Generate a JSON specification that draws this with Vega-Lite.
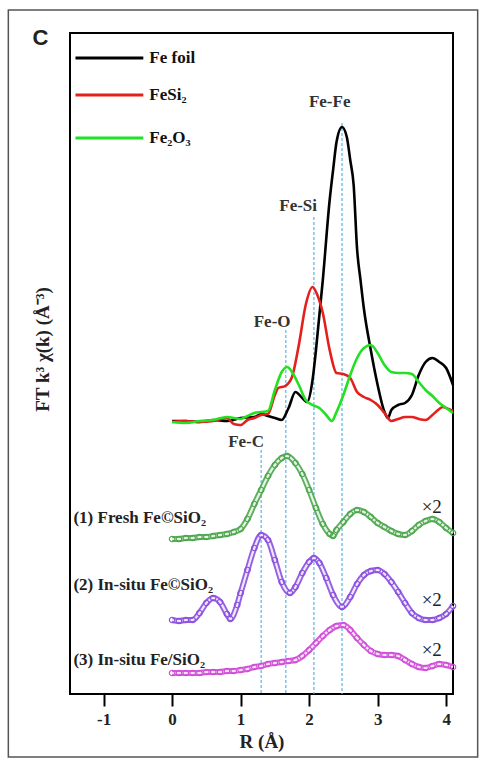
{
  "$schema": "https://vega.github.io/schema/vega-lite/v6.json",
  "width": 383,
  "height": 661,
  "autosize": "none",
  "padding": {"left": 70, "top": 33, "right": 30, "bottom": 69},
  "background": "white",
  "config": {
    "view": {"stroke": "black", "strokeWidth": 2},
    "font": "Liberation Serif"
  },
  "datasets": {
    "refs": [
      {"R": 0.0, "v": 273, "s": "Fe foil"}, {"R": 0.2, "v": 273, "s": "Fe foil"}, {"R": 0.4, "v": 272, "s": "Fe foil"}, {"R": 0.6, "v": 274, "s": "Fe foil"}, {"R": 0.8, "v": 273, "s": "Fe foil"}, {"R": 1.0, "v": 276, "s": "Fe foil"}, {"R": 1.2, "v": 277, "s": "Fe foil"}, {"R": 1.3, "v": 280, "s": "Fe foil"}, {"R": 1.4, "v": 278, "s": "Fe foil"}, {"R": 1.5, "v": 276, "s": "Fe foil"}, {"R": 1.6, "v": 274, "s": "Fe foil"}, {"R": 1.7, "v": 286, "s": "Fe foil"}, {"R": 1.8, "v": 302, "s": "Fe foil"}, {"R": 1.9, "v": 296, "s": "Fe foil"}, {"R": 1.97, "v": 292, "s": "Fe foil"}, {"R": 2.05, "v": 314, "s": "Fe foil"}, {"R": 2.1, "v": 344, "s": "Fe foil"}, {"R": 2.2, "v": 414, "s": "Fe foil"}, {"R": 2.3, "v": 494, "s": "Fe foil"}, {"R": 2.35, "v": 524, "s": "Fe foil"}, {"R": 2.4, "v": 552, "s": "Fe foil"}, {"R": 2.48, "v": 567, "s": "Fe foil"}, {"R": 2.55, "v": 557, "s": "Fe foil"}, {"R": 2.6, "v": 534, "s": "Fe foil"}, {"R": 2.65, "v": 509, "s": "Fe foil"}, {"R": 2.7, "v": 445, "s": "Fe foil"}, {"R": 2.75, "v": 414, "s": "Fe foil"}, {"R": 2.8, "v": 385, "s": "Fe foil"}, {"R": 2.9, "v": 344, "s": "Fe foil"}, {"R": 3.0, "v": 309, "s": "Fe foil"}, {"R": 3.1, "v": 282, "s": "Fe foil"}, {"R": 3.15, "v": 276, "s": "Fe foil"}, {"R": 3.2, "v": 284, "s": "Fe foil"}, {"R": 3.3, "v": 289, "s": "Fe foil"}, {"R": 3.4, "v": 291, "s": "Fe foil"}, {"R": 3.5, "v": 299, "s": "Fe foil"}, {"R": 3.6, "v": 319, "s": "Fe foil"}, {"R": 3.7, "v": 332, "s": "Fe foil"}, {"R": 3.8, "v": 336, "s": "Fe foil"}, {"R": 3.9, "v": 332, "s": "Fe foil"}, {"R": 4.0, "v": 326, "s": "Fe foil"}, {"R": 4.1, "v": 309, "s": "Fe foil"},

      {"R": 0.0, "v": 272, "s": "FeSi2"}, {"R": 0.2, "v": 273, "s": "FeSi2"}, {"R": 0.4, "v": 272, "s": "FeSi2"}, {"R": 0.6, "v": 273, "s": "FeSi2"}, {"R": 0.8, "v": 276, "s": "FeSi2"}, {"R": 0.9, "v": 270, "s": "FeSi2"}, {"R": 1.0, "v": 269, "s": "FeSi2"}, {"R": 1.1, "v": 274, "s": "FeSi2"}, {"R": 1.2, "v": 276, "s": "FeSi2"}, {"R": 1.3, "v": 279, "s": "FeSi2"}, {"R": 1.4, "v": 280, "s": "FeSi2"}, {"R": 1.5, "v": 299, "s": "FeSi2"}, {"R": 1.55, "v": 306, "s": "FeSi2"}, {"R": 1.65, "v": 308, "s": "FeSi2"}, {"R": 1.75, "v": 317, "s": "FeSi2"}, {"R": 1.85, "v": 349, "s": "FeSi2"}, {"R": 1.95, "v": 389, "s": "FeSi2"}, {"R": 2.05, "v": 407, "s": "FeSi2"}, {"R": 2.12, "v": 399, "s": "FeSi2"}, {"R": 2.2, "v": 381, "s": "FeSi2"}, {"R": 2.3, "v": 344, "s": "FeSi2"}, {"R": 2.4, "v": 321, "s": "FeSi2"}, {"R": 2.5, "v": 320, "s": "FeSi2"}, {"R": 2.6, "v": 316, "s": "FeSi2"}, {"R": 2.7, "v": 302, "s": "FeSi2"}, {"R": 2.8, "v": 297, "s": "FeSi2"}, {"R": 2.9, "v": 294, "s": "FeSi2"}, {"R": 3.0, "v": 289, "s": "FeSi2"}, {"R": 3.1, "v": 281, "s": "FeSi2"}, {"R": 3.2, "v": 273, "s": "FeSi2"}, {"R": 3.3, "v": 275, "s": "FeSi2"}, {"R": 3.4, "v": 277, "s": "FeSi2"}, {"R": 3.5, "v": 277, "s": "FeSi2"}, {"R": 3.6, "v": 275, "s": "FeSi2"}, {"R": 3.7, "v": 274, "s": "FeSi2"}, {"R": 3.8, "v": 279, "s": "FeSi2"}, {"R": 3.9, "v": 285, "s": "FeSi2"}, {"R": 3.95, "v": 287, "s": "FeSi2"}, {"R": 4.0, "v": 286, "s": "FeSi2"}, {"R": 4.1, "v": 283, "s": "FeSi2"},

      {"R": 0.0, "v": 272, "s": "Fe2O3"}, {"R": 0.2, "v": 271, "s": "Fe2O3"}, {"R": 0.4, "v": 273, "s": "Fe2O3"}, {"R": 0.6, "v": 274, "s": "Fe2O3"}, {"R": 0.8, "v": 277, "s": "Fe2O3"}, {"R": 1.0, "v": 275, "s": "Fe2O3"}, {"R": 1.1, "v": 278, "s": "Fe2O3"}, {"R": 1.2, "v": 281, "s": "Fe2O3"}, {"R": 1.3, "v": 282, "s": "Fe2O3"}, {"R": 1.4, "v": 283, "s": "Fe2O3"}, {"R": 1.5, "v": 304, "s": "Fe2O3"}, {"R": 1.6, "v": 322, "s": "Fe2O3"}, {"R": 1.68, "v": 327, "s": "Fe2O3"}, {"R": 1.75, "v": 322, "s": "Fe2O3"}, {"R": 1.85, "v": 309, "s": "Fe2O3"}, {"R": 1.95, "v": 294, "s": "Fe2O3"}, {"R": 2.05, "v": 289, "s": "Fe2O3"}, {"R": 2.15, "v": 286, "s": "Fe2O3"}, {"R": 2.25, "v": 279, "s": "Fe2O3"}, {"R": 2.33, "v": 273, "s": "Fe2O3"}, {"R": 2.4, "v": 282, "s": "Fe2O3"}, {"R": 2.5, "v": 299, "s": "Fe2O3"}, {"R": 2.6, "v": 319, "s": "Fe2O3"}, {"R": 2.7, "v": 336, "s": "Fe2O3"}, {"R": 2.8, "v": 346, "s": "Fe2O3"}, {"R": 2.9, "v": 349, "s": "Fe2O3"}, {"R": 3.0, "v": 341, "s": "Fe2O3"}, {"R": 3.1, "v": 329, "s": "Fe2O3"}, {"R": 3.2, "v": 322, "s": "Fe2O3"}, {"R": 3.3, "v": 321, "s": "Fe2O3"}, {"R": 3.4, "v": 321, "s": "Fe2O3"}, {"R": 3.5, "v": 320, "s": "Fe2O3"}, {"R": 3.6, "v": 312, "s": "Fe2O3"}, {"R": 3.7, "v": 304, "s": "Fe2O3"}, {"R": 3.8, "v": 298, "s": "Fe2O3"}, {"R": 3.9, "v": 291, "s": "Fe2O3"}, {"R": 4.0, "v": 286, "s": "Fe2O3"}, {"R": 4.1, "v": 281, "s": "Fe2O3"}
    ],
    "samples": [
      {"R": 0.0, "v": 155, "s": "s1"}, {"R": 0.1, "v": 155, "s": "s1"}, {"R": 0.2, "v": 156, "s": "s1"}, {"R": 0.3, "v": 156, "s": "s1"}, {"R": 0.4, "v": 157, "s": "s1"}, {"R": 0.5, "v": 157, "s": "s1"}, {"R": 0.6, "v": 158, "s": "s1"}, {"R": 0.7, "v": 159, "s": "s1"}, {"R": 0.8, "v": 160, "s": "s1"}, {"R": 0.9, "v": 162, "s": "s1"}, {"R": 1.0, "v": 165, "s": "s1"}, {"R": 1.1, "v": 175, "s": "s1"}, {"R": 1.2, "v": 190, "s": "s1"}, {"R": 1.3, "v": 204, "s": "s1"}, {"R": 1.4, "v": 218, "s": "s1"}, {"R": 1.5, "v": 229, "s": "s1"}, {"R": 1.6, "v": 236, "s": "s1"}, {"R": 1.68, "v": 238, "s": "s1"}, {"R": 1.8, "v": 231, "s": "s1"}, {"R": 1.9, "v": 220, "s": "s1"}, {"R": 2.0, "v": 204, "s": "s1"}, {"R": 2.1, "v": 186, "s": "s1"}, {"R": 2.2, "v": 170, "s": "s1"}, {"R": 2.3, "v": 160, "s": "s1"}, {"R": 2.35, "v": 158, "s": "s1"}, {"R": 2.4, "v": 164, "s": "s1"}, {"R": 2.5, "v": 172, "s": "s1"}, {"R": 2.6, "v": 180, "s": "s1"}, {"R": 2.7, "v": 184, "s": "s1"}, {"R": 2.8, "v": 182, "s": "s1"}, {"R": 2.9, "v": 177, "s": "s1"}, {"R": 3.0, "v": 171, "s": "s1"}, {"R": 3.1, "v": 167, "s": "s1"}, {"R": 3.2, "v": 163, "s": "s1"}, {"R": 3.3, "v": 160, "s": "s1"}, {"R": 3.4, "v": 159, "s": "s1"}, {"R": 3.5, "v": 163, "s": "s1"}, {"R": 3.6, "v": 169, "s": "s1"}, {"R": 3.7, "v": 173, "s": "s1"}, {"R": 3.8, "v": 175, "s": "s1"}, {"R": 3.9, "v": 172, "s": "s1"}, {"R": 4.0, "v": 166, "s": "s1"}, {"R": 4.1, "v": 161, "s": "s1"},

      {"R": 0.0, "v": 74, "s": "s2"}, {"R": 0.1, "v": 73, "s": "s2"}, {"R": 0.2, "v": 74, "s": "s2"}, {"R": 0.3, "v": 74, "s": "s2"}, {"R": 0.4, "v": 81, "s": "s2"}, {"R": 0.5, "v": 91, "s": "s2"}, {"R": 0.6, "v": 96, "s": "s2"}, {"R": 0.7, "v": 92, "s": "s2"}, {"R": 0.8, "v": 80, "s": "s2"}, {"R": 0.85, "v": 75, "s": "s2"}, {"R": 0.95, "v": 89, "s": "s2"}, {"R": 1.0, "v": 101, "s": "s2"}, {"R": 1.1, "v": 124, "s": "s2"}, {"R": 1.2, "v": 146, "s": "s2"}, {"R": 1.3, "v": 159, "s": "s2"}, {"R": 1.4, "v": 154, "s": "s2"}, {"R": 1.5, "v": 134, "s": "s2"}, {"R": 1.6, "v": 112, "s": "s2"}, {"R": 1.72, "v": 101, "s": "s2"}, {"R": 1.8, "v": 107, "s": "s2"}, {"R": 1.9, "v": 121, "s": "s2"}, {"R": 2.0, "v": 132, "s": "s2"}, {"R": 2.07, "v": 136, "s": "s2"}, {"R": 2.15, "v": 131, "s": "s2"}, {"R": 2.25, "v": 116, "s": "s2"}, {"R": 2.35, "v": 99, "s": "s2"}, {"R": 2.48, "v": 87, "s": "s2"}, {"R": 2.6, "v": 97, "s": "s2"}, {"R": 2.7, "v": 110, "s": "s2"}, {"R": 2.8, "v": 119, "s": "s2"}, {"R": 2.9, "v": 123, "s": "s2"}, {"R": 3.0, "v": 124, "s": "s2"}, {"R": 3.1, "v": 120, "s": "s2"}, {"R": 3.2, "v": 112, "s": "s2"}, {"R": 3.3, "v": 102, "s": "s2"}, {"R": 3.4, "v": 91, "s": "s2"}, {"R": 3.5, "v": 81, "s": "s2"}, {"R": 3.6, "v": 76, "s": "s2"}, {"R": 3.7, "v": 74, "s": "s2"}, {"R": 3.8, "v": 74, "s": "s2"}, {"R": 3.9, "v": 76, "s": "s2"}, {"R": 4.0, "v": 80, "s": "s2"}, {"R": 4.1, "v": 88, "s": "s2"},

      {"R": 0.0, "v": 21, "s": "s3"}, {"R": 0.1, "v": 21, "s": "s3"}, {"R": 0.2, "v": 21, "s": "s3"}, {"R": 0.3, "v": 21, "s": "s3"}, {"R": 0.4, "v": 21, "s": "s3"}, {"R": 0.5, "v": 22, "s": "s3"}, {"R": 0.6, "v": 22, "s": "s3"}, {"R": 0.7, "v": 22, "s": "s3"}, {"R": 0.8, "v": 23, "s": "s3"}, {"R": 0.9, "v": 23, "s": "s3"}, {"R": 1.0, "v": 24, "s": "s3"}, {"R": 1.1, "v": 25, "s": "s3"}, {"R": 1.2, "v": 27, "s": "s3"}, {"R": 1.3, "v": 28, "s": "s3"}, {"R": 1.4, "v": 30, "s": "s3"}, {"R": 1.5, "v": 31, "s": "s3"}, {"R": 1.6, "v": 32, "s": "s3"}, {"R": 1.7, "v": 33, "s": "s3"}, {"R": 1.8, "v": 34, "s": "s3"}, {"R": 1.9, "v": 38, "s": "s3"}, {"R": 2.0, "v": 44, "s": "s3"}, {"R": 2.1, "v": 51, "s": "s3"}, {"R": 2.2, "v": 58, "s": "s3"}, {"R": 2.3, "v": 64, "s": "s3"}, {"R": 2.4, "v": 68, "s": "s3"}, {"R": 2.5, "v": 69, "s": "s3"}, {"R": 2.6, "v": 64, "s": "s3"}, {"R": 2.7, "v": 56, "s": "s3"}, {"R": 2.8, "v": 49, "s": "s3"}, {"R": 2.9, "v": 43, "s": "s3"}, {"R": 3.0, "v": 40, "s": "s3"}, {"R": 3.1, "v": 39, "s": "s3"}, {"R": 3.2, "v": 39, "s": "s3"}, {"R": 3.3, "v": 38, "s": "s3"}, {"R": 3.4, "v": 34, "s": "s3"}, {"R": 3.5, "v": 30, "s": "s3"}, {"R": 3.6, "v": 27, "s": "s3"}, {"R": 3.7, "v": 26, "s": "s3"}, {"R": 3.8, "v": 28, "s": "s3"}, {"R": 3.9, "v": 30, "s": "s3"}, {"R": 4.0, "v": 29, "s": "s3"}, {"R": 4.1, "v": 27, "s": "s3"}
    ],
    "bonds": [
      {"bond": "Fe-C", "R": 1.30, "top": 244, "labelR": 1.08, "labelV": 252},
      {"bond": "Fe-O", "R": 1.66, "top": 364, "labelR": 1.46, "labelV": 372},
      {"bond": "Fe-Si", "R": 2.07, "top": 477, "labelR": 1.84, "labelV": 488},
      {"bond": "Fe-Fe", "R": 2.48, "top": 571, "labelR": 2.30, "labelV": 592}
    ],
    "legend": [
      {"s": "Fe foil", "x1": -1.41, "x2": -0.42, "v": 636, "label": "Fe foil"},
      {"s": "FeSi2", "x1": -1.41, "x2": -0.42, "v": 599, "label": "FeSi₂"},
      {"s": "Fe2O3", "x1": -1.41, "x2": -0.42, "v": 556, "label": "Fe₂O₃"}
    ],
    "sampleLabels": [
      {"s": "s1", "label": "(1) Fresh Fe©SiO₂", "R": -1.44, "v": 176, "scaleV": 187},
      {"s": "s2", "label": "(2) In-situ Fe©SiO₂", "R": -1.44, "v": 109, "scaleV": 94},
      {"s": "s3", "label": "(3) In-situ Fe/SiO₂", "R": -1.44, "v": 34, "scaleV": 44}
    ],
    "frame": [
      {"x1": -2.39, "x2": 4.46, "y1": 684, "y2": -63, "panel": "C", "px": -1.92, "pv": 656}
    ]
  },
  "layer": [
    {
      "data": {"name": "frame"},
      "mark": {"type": "rect", "fill": null, "stroke": "#555555", "strokeWidth": 1.5},
      "encoding": {
        "x": {"field": "x1", "type": "quantitative", "scale": {"domain": [-1.49, 4.1], "nice": false, "zero": false},
              "axis": {"values": [-1, 0, 1, 2, 3, 4], "labelExpr": "replace(format(datum.value, 'd'), '−', '-')", "domain": false, "grid": false, "tickSize": 12, "tickWidth": 2, "tickColor": "black",
                       "labelFont": "Liberation Serif", "labelFontWeight": "bold", "labelFontSize": 17, "labelColor": "#222", "labelPadding": 5,
                       "title": "R (Å)", "titleFont": "Liberation Serif", "titleFontWeight": "bold", "titleFontSize": 19, "titleColor": "#222", "titlePadding": 5}},
        "x2": {"field": "x2"},
        "y": {"field": "y1", "type": "quantitative", "scale": {"domain": [0, 661], "nice": false, "zero": false},
              "axis": {"domain": false, "ticks": false, "labels": false, "grid": false,
                       "title": "FT k³ χ(k) (Å⁻³)", "titleFont": "Liberation Serif", "titleFontWeight": "bold", "titleFontSize": 19, "titleColor": "#222",
                       "titleX": -18, "titleY": 316, "titleAnchor": "middle"}},
        "y2": {"field": "y2"}
      }
    },
    {
      "data": {"name": "frame"},
      "mark": {"type": "text", "font": "Liberation Sans", "fontWeight": "bold", "fontSize": 22, "align": "center", "baseline": "middle", "color": "#222"},
      "encoding": {
        "x": {"field": "px", "type": "quantitative"},
        "y": {"field": "pv", "type": "quantitative"},
        "text": {"field": "panel"}
      }
    },
    {
      "data": {"name": "bonds"},
      "mark": {"type": "rule", "color": "#5ab4e6", "strokeWidth": 1.2, "strokeDash": [3, 2]},
      "encoding": {
        "x": {"field": "R", "type": "quantitative"},
        "y": {"field": "top", "type": "quantitative"},
        "y2": {"datum": 0}
      }
    },
    {
      "data": {"name": "bonds"},
      "mark": {"type": "text", "font": "Liberation Serif", "fontWeight": "bold", "fontSize": 17, "align": "center", "baseline": "middle", "color": "#333"},
      "encoding": {
        "x": {"field": "labelR", "type": "quantitative"},
        "y": {"field": "labelV", "type": "quantitative"},
        "text": {"field": "bond"}
      }
    },
    {
      "data": {"name": "refs"},
      "mark": {"type": "line", "strokeWidth": 2.6, "interpolate": "monotone"},
      "encoding": {
        "x": {"field": "R", "type": "quantitative"},
        "y": {"field": "v", "type": "quantitative"},
        "color": {"field": "s", "type": "nominal", "legend": null,
                  "scale": {"domain": ["Fe2O3", "FeSi2", "Fe foil", "s1", "s2", "s3"], "range": ["#22e022", "#e3201c", "#000000", "#4ca64c", "#8a4fe0", "#d04cd8"]}},
        "order": {"field": "R", "type": "quantitative"}
      }
    },
    {
      "data": {"name": "samples"},
      "mark": {"type": "line", "strokeWidth": 6, "interpolate": "monotone", "opacity": 0.9},
      "encoding": {
        "x": {"field": "R", "type": "quantitative"},
        "y": {"field": "v", "type": "quantitative"},
        "color": {"field": "s", "type": "nominal", "legend": null},
        "order": {"field": "R", "type": "quantitative"}
      }
    },
    {
      "data": {"name": "samples"},
      "mark": {"type": "line", "strokeWidth": 2.2, "interpolate": "monotone", "color": "white", "opacity": 0.85},
      "encoding": {
        "x": {"field": "R", "type": "quantitative"},
        "y": {"field": "v", "type": "quantitative"},
        "detail": {"field": "s"},
        "order": {"field": "R", "type": "quantitative"}
      }
    },
    {
      "data": {"name": "samples"},
      "mark": {"type": "point", "shape": "circle", "filled": false, "size": 30, "strokeWidth": 1.2, "opacity": 1},
      "encoding": {
        "x": {"field": "R", "type": "quantitative"},
        "y": {"field": "v", "type": "quantitative"},
        "color": {"field": "s", "type": "nominal", "legend": null}
      }
    },
    {
      "data": {"name": "legend"},
      "mark": {"type": "rule", "strokeWidth": 3},
      "encoding": {
        "x": {"field": "x1", "type": "quantitative"},
        "x2": {"field": "x2"},
        "y": {"field": "v", "type": "quantitative"},
        "color": {"field": "s", "type": "nominal", "legend": null}
      }
    },
    {
      "data": {"name": "legend"},
      "mark": {"type": "text", "font": "Liberation Serif", "fontWeight": "bold", "fontSize": 17, "align": "left", "baseline": "middle", "dx": 6, "color": "#111"},
      "encoding": {
        "x": {"field": "x2", "type": "quantitative"},
        "y": {"field": "v", "type": "quantitative"},
        "text": {"field": "label"}
      }
    },
    {
      "data": {"name": "sampleLabels"},
      "mark": {"type": "text", "font": "Liberation Serif", "fontWeight": "bold", "fontSize": 17, "align": "left", "baseline": "middle", "color": "#222"},
      "encoding": {
        "x": {"field": "R", "type": "quantitative"},
        "y": {"field": "v", "type": "quantitative"},
        "text": {"field": "label"}
      }
    },
    {
      "data": {"name": "sampleLabels"},
      "mark": {"type": "text", "font": "Liberation Serif", "fontSize": 19, "align": "center", "baseline": "middle", "color": "#222"},
      "encoding": {
        "x": {"datum": 3.79, "type": "quantitative"},
        "y": {"field": "scaleV", "type": "quantitative"},
        "text": {"value": "×2"}
      }
    }
  ]
}
